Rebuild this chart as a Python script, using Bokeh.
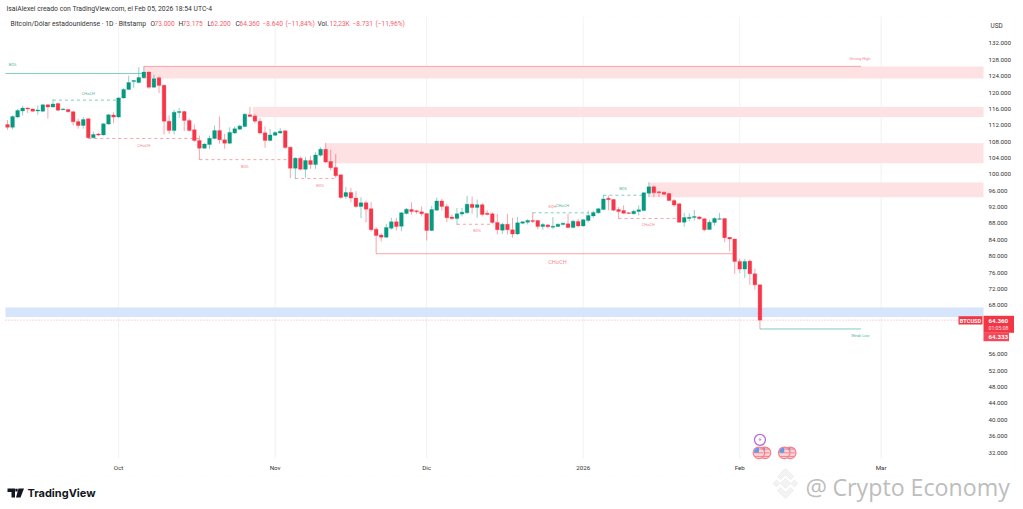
import math
import numpy as np
import pandas as pd
from bokeh.plotting import figure
from bokeh.core.properties import value
from bokeh.models import (Range1d, LinearAxis, FixedTicker, NumeralTickFormatter, Label, BoxAnnotation,
                          PolyAnnotation, ColumnDataSource)
from bokeh.embed import file_html
from bokeh.resources import INLINE

FONT = "Roboto"
UP, DOWN = "#089981", "#f7364a"
TEAL_SOFT, RED_SOFT = "#7fcfbc", "#f8a3a9"

dates = pd.date_range("2025-09-09", periods=150)
opens = [112.2,111.5,114.0,115.5,116.2,116.0,115.5,115.45,117.0,116.5,
 117.3,115.8,115.85,115.3,112.9,111.95,113.6,108.95,109.9,109.65,
 112.3,114.5,114.0,118.7,120.75,122.7,122.45,123.6,125.0,121.3,
 123.6,121.8,113.0,110.7,115.1,115.35,113.2,110.9,108.3,106.4,
 107.3,108.75,110.7,108.45,107.6,110.1,111.05,111.7,114.55,114.3,
 113.0,110.15,108.3,109.55,110.1,110.65,106.65,101.5,103.95,101.25,
 103.4,102.4,104.7,106.15,103.15,101.7,99.9,94.6,95.55,94.2,
 92.15,93.05,91.6,86.6,85.15,84.65,86.85,88.4,87.3,90.45,
 91.4,91.1,90.85,90.45,86.3,91.25,93.5,92.15,89.55,89.2,
 90.3,90.6,92.7,91.9,92.6,90.5,90.35,88.25,86.35,87.8,
 86.45,85.45,88.05,88.3,88.75,88.7,87.25,87.65,87.1,87.25,
 87.75,87.9,87.0,88.5,87.4,88.7,89.85,90.6,91.4,94.15,
 93.85,91.4,91.15,90.6,90.35,90.95,91.15,95.4,96.95,95.75,
 95.65,95.3,93.6,92.8,88.3,89.2,89.45,89.6,89.15,86.5,
 88.25,89.0,89.2,84.6,84.2,78.7,76.85,78.8,75.7,73.0]
closes = [111.5,114.15,115.6,116.2,116.0,115.45,115.75,117.0,116.5,117.2,
 115.7,116.0,115.3,112.85,111.95,113.4,108.95,109.75,109.6,112.35,
 114.55,114.0,118.7,120.75,122.45,122.95,123.7,125.0,121.3,123.4,
 121.7,113.0,110.7,115.2,115.35,113.2,110.7,108.3,106.4,107.4,
 108.85,110.7,108.45,107.6,110.25,111.15,111.85,114.7,114.15,113.0,
 110.1,108.3,109.65,110.25,110.55,106.55,101.5,103.95,101.25,103.4,
 102.4,104.75,106.15,103.05,101.6,99.65,94.35,95.55,94.2,92.15,
 93.05,91.5,86.45,85.05,84.65,87.0,88.4,87.25,90.6,91.5,
 90.9,90.85,90.35,86.3,91.4,93.5,92.15,89.4,89.2,90.35,
 90.75,92.7,91.9,92.6,90.2,90.2,88.25,86.45,87.8,86.45,
 85.4,88.15,88.4,88.75,88.5,87.25,87.75,87.2,87.3,87.8,
 88.05,87.0,88.55,87.4,88.9,89.95,90.7,91.6,94.0,93.8,
 91.25,90.9,90.5,90.45,91.0,91.35,95.5,96.95,95.5,95.5,
 95.15,93.6,92.5,88.3,89.45,89.5,89.7,89.15,86.45,88.3,
 89.2,89.15,84.5,84.2,78.7,76.85,78.7,75.7,73.0,64.36]
highs = [113.3,114.4,116.0,116.8,116.4,116.1,116.8,117.15,117.2,118.3,
 117.5,116.2,116.0,115.6,113.6,114.0,113.7,110.5,110.15,112.5,
 114.8,115.2,118.9,121.1,124.15,123.1,126.2,126.45,125.15,124.4,
 123.9,121.9,114.4,115.8,116.2,115.5,113.6,112.2,109.5,107.6,
 109.5,111.95,114.15,109.9,111.5,111.7,112.2,115.0,116.5,114.8,
 113.8,111.7,111.15,110.5,111.35,110.8,106.8,104.2,104.35,104.2,
 104.5,105.4,106.65,107.7,106.0,105.0,99.95,96.9,96.7,95.9,
 94.4,93.6,93.2,87.1,85.6,87.9,89.4,89.4,90.75,91.8,
 93.2,91.3,92.15,90.5,92.3,94.3,94.0,92.8,90.2,91.8,
 91.8,94.75,94.6,93.85,92.95,91.2,90.75,90.35,88.1,90.35,
 89.4,89.55,88.55,89.05,90.7,88.9,88.1,87.9,89.55,88.05,
 88.25,90.35,88.9,89.1,89.1,91.15,91.15,91.75,95.0,94.85,
 94.0,92.0,92.4,90.75,91.35,92.4,95.65,98.1,97.3,95.9,
 95.8,95.5,94.0,92.9,90.6,90.5,91.3,89.85,89.3,88.9,
 89.55,90.6,89.3,84.65,84.25,79.35,79.35,79.2,76.9,73.175]
lows = [110.9,111.0,113.8,114.4,115.0,115.3,114.6,115.2,113.6,116.3,
 115.45,115.7,115.15,111.95,111.15,111.15,108.8,108.8,109.4,109.5,
 112.1,112.5,113.8,118.45,120.7,121.15,122.3,123.4,120.9,121.15,
 119.85,109.75,109.9,109.75,113.8,110.55,110.5,107.9,103.55,106.25,
 106.25,108.6,107.5,106.25,107.45,109.9,110.9,111.5,114.0,112.5,
 109.75,106.5,108.1,109.4,109.9,106.25,99.07,98.9,100.95,99.15,
 101.35,101.35,104.35,102.75,100.95,99.15,94.0,94.0,93.2,91.8,
 89.3,88.3,86.0,80.6,83.6,84.5,86.45,86.3,86.1,90.2,
 90.2,90.35,89.7,83.85,86.1,91.15,91.15,88.3,88.9,87.65,
 89.7,90.35,90.35,89.4,89.7,89.95,87.9,85.3,85.45,85.3,
 84.5,85.2,87.9,87.75,88.1,86.6,86.45,86.85,86.6,87.1,
 87.5,86.85,86.85,87.1,87.25,88.3,89.4,90.35,91.25,91.2,
 91.0,89.15,90.35,90.3,90.2,89.95,91.0,94.45,94.45,94.45,
 94.85,93.45,92.0,88.2,87.25,88.55,88.7,88.9,86.1,86.45,
 87.45,88.9,83.4,81.15,75.7,75.85,74.7,73.0,71.85,62.2]

price_ticks = [132,128,124,120,116,112,108,104,100,96,92,88,84,80,76,72,68,56,52,48,44,40,36,32]
month_dates = ["2025-10-01","2025-11-01","2025-12-01","2026-01-01","2026-02-01","2026-03-01"]
month_labels = ["Oct","Nov","Dic","2026","Feb","Mar"]

zone_start = [27.0, 48.6, 63.0, 127.0]
zone_top = [126.4, 116.5, 107.6, 98.0]
zone_bottom = [123.45, 114.0, 102.7, 94.4]
blue_top, blue_bottom = 67.45, 65.1

solid_teal = [(-0.4, 27, 124.65), (149, 169, 62.2)]
solid_red = [(27, 169, 126.4), (73, 143.6, 80.6)]
dash_teal = [(9, 22, 118.15), (104, 115, 90.6), (118, 126, 94.9)]
dash_red = [(16, 38, 108.77), (38, 56, 103.6), (57, 65, 99.0), (89, 96.2, 87.8), (121, 133, 89.2)]

chart_texts = ["BOS","CHoCH","CHoCH","BOS","BOS","BOS","EQH","CHoCH","BOS","CHoCH","CHoCH","Strong High","Weak Low"]
chart_text_i = [1.0,16.0,27.0,47.0,61.9,93.0,107.9,109.9,121.9,126.9,108.9,168.8,168.9]
chart_text_p = [126.87,119.77,107.13,101.95,97.35,86.28,92.15,92.39,96.55,87.75,78.53,128.33,60.6]
chart_text_c = ["t","t","r","r","r","r","r","t","t","r","r","r","t"]
chart_text_s = [4,4,4,4,4,4,4,4,4,4,5.6,4,4]

flag_days = [149.4, 154.4]
flag_price = 31.93
bolt_day, bolt_price = 149.0, 35.1
last_close, countdown_price = 64.36, 64.333

# the chart pane in data units; the figure's frame covers the whole page so header and footer can be drawn
pane_left, pane_right, pane_bottom, pane_top = -0.396, 193.27, 30.53, 138.6

p = figure(width=1022, height=508, output_backend="svg", toolbar_location=None, tools="",
           x_range=Range1d(-1.386, 200.99), y_range=Range1d(18.31, 142.51),
           x_axis_location=None, y_axis_location=None,
           min_border_left=0, min_border_right=0, min_border_top=0, min_border_bottom=0,
           outline_line_color=None, background_fill_color="white", border_fill_color="white",
           margin=0)
p.grid.visible = False

month_pos = [(pd.Timestamp(d) - dates[0]).days for d in month_dates]
xa = LinearAxis(ticker=FixedTicker(ticks=month_pos), fixed_location=pane_bottom)
xa.major_label_overrides = dict(zip(month_pos, month_labels))
ya = LinearAxis(ticker=FixedTicker(ticks=price_ticks), formatter=NumeralTickFormatter(format="0.000"),
                fixed_location=pane_right)
for ax in (xa, ya):
    ax.axis_line_color = None
    ax.major_tick_line_color = None
    ax.minor_tick_line_color = None
    ax.major_tick_in = 0
    ax.major_tick_out = 0
    ax.minor_tick_in = 0
    ax.minor_tick_out = 0
    ax.major_label_text_font = FONT
    ax.major_label_text_font_size = "6.2px"
    ax.major_label_text_color = "#333333"
xa.major_label_standoff = 5
ya.major_label_standoff = 5
p.add_layout(xa, "below")
p.add_layout(ya, "right")

p.segment(month_pos, [pane_bottom] * 6, month_pos, [pane_top] * 6, line_color="#f1f2f5", line_width=1)

p.quad(left=zone_start, right=[pane_right] * len(zone_start), top=zone_top, bottom=zone_bottom,
       fill_color="#fde1e3", line_color=None)
p.quad(left=[pane_left], right=[pane_right], top=[blue_top], bottom=[blue_bottom], fill_color="#d6e4fc", line_color=None)
p.line([pane_left, pane_right], [last_close, last_close], line_color="#f7364a", line_alpha=0.55,
       line_width=0.8, line_dash=[1, 2])

def seg(rows, color, dash=None):
    r = p.segment([r[0] for r in rows], [r[2] for r in rows], [r[1] for r in rows], [r[2] for r in rows],
                  line_color=color, line_width=1)
    if dash:
        r.glyph.line_dash = dash

seg(solid_teal, TEAL_SOFT)
seg(solid_red, RED_SOFT)
seg(dash_teal, TEAL_SOFT, [3, 3])
seg(dash_red, RED_SOFT, [3, 3])

idx = np.arange(len(dates))
o, h, l, c = map(np.array, (opens, highs, lows, closes))
col = [UP if a > b else DOWN for a, b in zip(c, o)]
src = ColumnDataSource(dict(x=idx, o=o, h=h, l=l, c=c, col=col,
                            top=np.maximum(o, c), bot=np.minimum(o, c)))
p.segment("x", "h", "x", "l", source=src, line_color="col", line_width=1, line_alpha=0.45)
p.vbar("x", 0.74, "top", "bot", source=src, fill_color="col", line_color="col", line_width=0.3)

for t, i, pr, cc, s in zip(chart_texts, chart_text_i, chart_text_p, chart_text_c, chart_text_s):
    p.add_layout(Label(x=i, y=pr, text=t, text_font=FONT, text_font_size=f"{s}px",
                       text_color="#4fb8a2" if cc == "t" else "#f48b93",
                       text_align="center", text_baseline="middle"))

p.scatter([bolt_day], [bolt_price], size=11, fill_color="white", line_color="#b86bd1", line_width=1.3)
p.text([bolt_day], [bolt_price], text=["\u26a1"], text_font=value("DejaVu Sans"), text_font_size=value("7px"),
       text_color="#b05ad0", text_align="center", text_baseline="middle")
for off in (0.6, -0.6):
    xs = [d + off for d in flag_days]
    p.scatter(xs, [flag_price] * 2, size=11.5, fill_color="#fbd2d5", line_color="#f77f89", line_width=1.2)
    for dy in (-0.9, 0.0, 0.9):
        p.scatter(xs, [flag_price + dy] * 2, marker="dash", size=9, line_color="#f5808a", line_width=0.9)
    p.wedge(xs, [flag_price] * 2, radius=5, radius_units="screen", start_angle=math.pi / 2,
            end_angle=math.pi, direction="anticlock", fill_color="#5b9cf0", line_color=None)

def text(x, y, t, size=6.3, color="#333333", align="left", font=FONT, style="normal"):
    p.add_layout(Label(x=x, y=y, x_units="canvas", y_units="canvas", text=t, text_font=font,
                       text_font_size=f"{size}px", text_color=color, text_align=align,
                       text_baseline="middle", text_font_style=style))

def box(l_, r_, t_, b_, fill):
    p.add_layout(BoxAnnotation(left=l_, right=r_, top=t_, bottom=b_, left_units="canvas", right_units="canvas",
                               top_units="canvas", bottom_units="canvas", fill_color=fill, fill_alpha=1,
                               line_color=None))

def poly(pts, fill, line=None, lw=1, dash="solid", falpha=1):
    p.add_layout(PolyAnnotation(xs=[a for a, _ in pts], ys=[b for _, b in pts], xs_units="canvas", ys_units="canvas",
                                fill_color=fill, fill_alpha=falpha, line_color=line, line_width=lw, line_dash=dash))

poly([(5, 16), (1015, 16), (1015, 475), (5, 475)], None, "#eeeeee", 1, [1, 2], 0)

text(6, 8, "IsaiAlexei creado con TradingView.com, el Feb 05, 2026 18:54 UTC-4", 6.8)
text(10, 23, "Bitcoin/Dólar estadounidense · 1D · Bitstamp", 6.8)
R = "#f4606e"
for x, t, cc in [(150, "O", "#333333"), (154, "73.000", R), (178, "H", "#333333"), (182, "73.175", R),
                 (207, "L", "#333333"), (210, "62.200", R), (235, "C", "#333333"), (239, "64.360", R),
                 (262, "−8.640", R), (285, "(−11,84%)", R), (317, "Vol.", "#333333"), (329, "12,23K", R),
                 (352, "−8.731", R), (375, "(−11,96%)", R)]:
    text(x, 23, t, 6.6, cc)
text(990, 25, "USD", 6.4)

box(958, 982, 315.7, 324, "#f23645")
text(970, 320, "BTCUSD", 5.6, "white", "center", style="bold")
box(983, 1013.5, 315.3, 332.3, "#f23645")
box(983, 1008.5, 332.3, 340.7, "#f7475a")
text(988, 320, f"{last_close:.3f}", 6.2, "white", style="bold")
text(988, 327, "01:05:08", 5.2, "#ffe0e3")
text(988, 336.5, f"{countdown_price:.3f}", 6.2, "white", style="bold")

poly([(7, 488), (14.5, 488), (14.5, 497), (11, 497), (11, 491.5), (7, 491.5)], "#131722")
poly([(18, 488), (23.5, 488), (20, 497), (15.5, 497)], "#131722")
poly([(14.8, 488.2), (17.2, 488.2), (17.2, 491), (14.8, 491)], "#131722")
text(27, 492.5, "TradingView", 11, "#131722", font="Inter", style="bold")

def diamond(cx, cy, r, fill="#f3f3f3", line="#cfcfcf"):
    poly([(cx, cy - r), (cx + r, cy), (cx, cy + r), (cx - r, cy)], fill, line, 1)
diamond(785, 483, 5)
diamond(776, 483, 3.5)
diamond(794, 483, 3.5)
poly([(785, 468), (793, 476), (790, 479), (785, 474), (780, 479), (777, 476)], "#f3f3f3", "#cfcfcf", 1)
poly([(785, 498), (793, 490), (790, 487), (785, 492), (780, 487), (777, 490)], "#f3f3f3", "#cfcfcf", 1)
text(805, 486, "@", 24, "#bdbdbd", font="Open Sans")
text(832, 486, "Crypto Economy", 23.2, "#bdbdbd", font="Open Sans")

open("out.html", "w").write(file_html(p, INLINE))
